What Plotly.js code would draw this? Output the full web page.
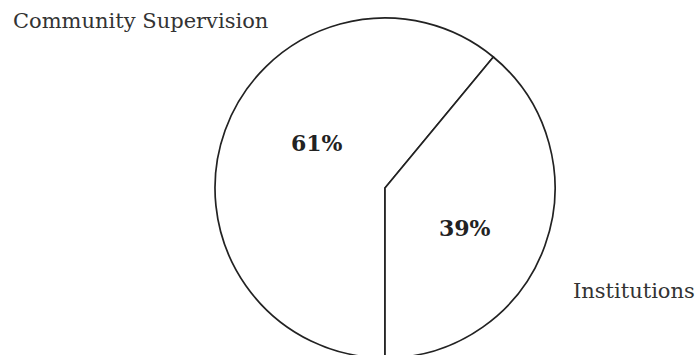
<!DOCTYPE html>
<html>
<head>
<meta charset="utf-8">
<script src="https://cdn.plot.ly/plotly-3.0.1.min.js"></script>
<style>html,body{margin:0;padding:0;overflow:hidden;background:#fff;}</style>
</head>
<body>
<div id="chart" style="width:697px;height:358px;"></div>
<script>
const categories = ["Community Supervision", "Institutions"];
const values = [61, 39];

const W = 697, H = 358;
const px = (x) => x / W;
const py = (y) => 1 - y / H;
const total = values.reduce((a, b) => a + b, 0);
const pct = values.map(v => Math.round(v / total * 100) + "%");

const serif = "DejaVu Serif, Liberation Serif, serif";

const data = [{
  type: "pie",
  labels: categories,
  values: values,
  sort: false,
  direction: "clockwise",
  rotation: 180,
  textinfo: "none",
  hoverinfo: "label+percent",
  marker: { colors: ["#ffffff", "#ffffff"], line: { color: "#222222", width: 1.7 } },
  domain: { x: [px(215), px(555)], y: [py(358), py(18)] },
  showlegend: false
}];

const layout = {
  width: W, height: H,
  margin: { l: 0, r: 0, t: 0, b: 0 },
  paper_bgcolor: "#ffffff",
  showlegend: false,
  annotations: [
    { text: categories[0], xref: "paper", yref: "paper", x: px(11), y: py(21), xanchor: "left", yanchor: "middle", showarrow: false, font: { family: serif, size: 21, color: "#333333" } },
    { text: categories[1], xref: "paper", yref: "paper", x: px(697), y: py(291), xanchor: "right", yanchor: "middle", showarrow: false, font: { family: serif, size: 21, color: "#333333" } },
    { text: "<b>" + pct[0] + "</b>", xref: "paper", yref: "paper", x: px(317), y: py(143), xanchor: "center", yanchor: "middle", showarrow: false, font: { family: serif, size: 22, color: "#222222" } },
    { text: "<b>" + pct[1] + "</b>", xref: "paper", yref: "paper", x: px(465), y: py(228), xanchor: "center", yanchor: "middle", showarrow: false, font: { family: serif, size: 22, color: "#222222" } }
  ]
};

Plotly.newPlot("chart", data, layout, { displayModeBar: false, staticPlot: true });
</script>
</body>
</html>
